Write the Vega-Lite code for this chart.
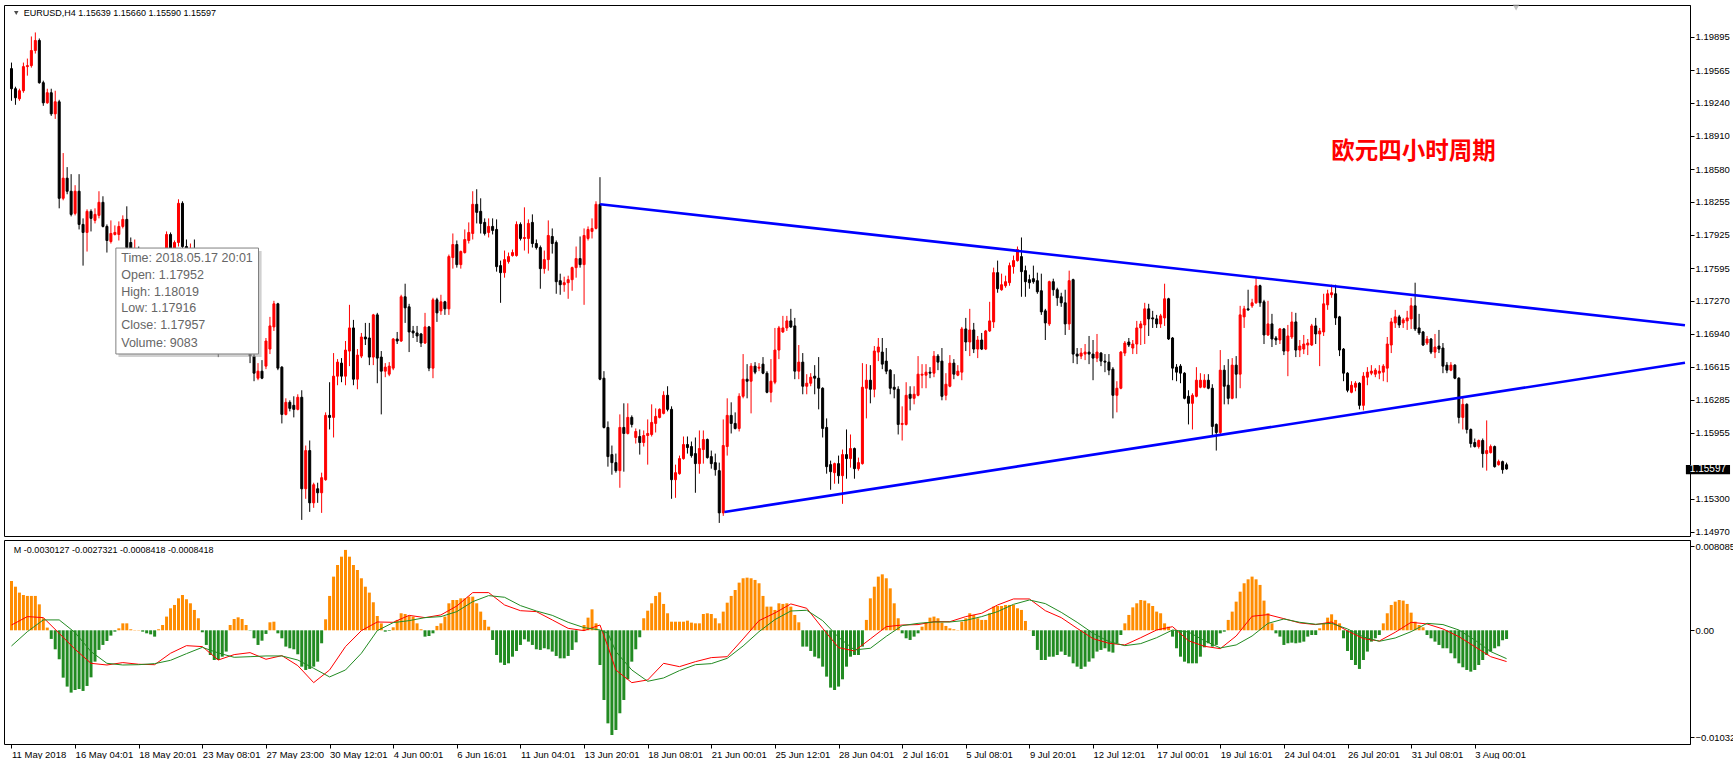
{
"$schema":"https://vega.github.io/schema/vega-lite/v6.json",
"background":"#ffffff",
"padding":{"left":3,"top":4,"right":0,"bottom":0},
"spacing":2,
"config":{"view":{"stroke":"#000000","strokeWidth":1},"axis":{"grid":false,"labelFont":"Liberation Sans","labelFontSize":9.5,"labelColor":"#000000","tickColor":"#000000","domainColor":"#000000"}},
"datasets":{
"bars":[
{"i":0,"o":1.1958,"h":1.1964,"l":1.1926,"c":1.1938,"m":0.00475},
{"i":1,"o":1.1938,"h":1.1940,"l":1.1922,"c":1.1929,"m":0.00420},
{"i":2,"o":1.1928,"h":1.1938,"l":1.1926,"c":1.1936,"m":0.00363},
{"i":3,"o":1.1936,"h":1.1964,"l":1.1934,"c":1.1960,"m":0.00340},
{"i":4,"o":1.1960,"h":1.1968,"l":1.1951,"c":1.1961,"m":0.00331},
{"i":5,"o":1.1961,"h":1.1990,"l":1.1959,"c":1.1976,"m":0.00331},
{"i":6,"o":1.1976,"h":1.1994,"l":1.1973,"c":1.1986,"m":0.00331},
{"i":7,"o":1.1986,"h":1.1988,"l":1.1943,"c":1.1944,"m":0.00250},
{"i":8,"o":1.1944,"h":1.1946,"l":1.1921,"c":1.1924,"m":0.00116},
{"i":9,"o":1.1924,"h":1.1938,"l":1.1923,"c":1.1934,"m":0.00026},
{"i":10,"o":1.1934,"h":1.1938,"l":1.1911,"c":1.1913,"m":-0.00083},
{"i":11,"o":1.1913,"h":1.1936,"l":1.1908,"c":1.1925,"m":-0.00183},
{"i":12,"o":1.1925,"h":1.1927,"l":1.1819,"c":1.1829,"m":-0.00279},
{"i":13,"o":1.1829,"h":1.1874,"l":1.1827,"c":1.1849,"m":-0.00456},
{"i":14,"o":1.1849,"h":1.1860,"l":1.1833,"c":1.1836,"m":-0.00542},
{"i":15,"o":1.1836,"h":1.1853,"l":1.1811,"c":1.1813,"m":-0.00600},
{"i":16,"o":1.1814,"h":1.1842,"l":1.1812,"c":1.1836,"m":-0.00575},
{"i":17,"o":1.1836,"h":1.1853,"l":1.1798,"c":1.1803,"m":-0.00565},
{"i":18,"o":1.1803,"h":1.1809,"l":1.1762,"c":1.1795,"m":-0.00584},
{"i":19,"o":1.1795,"h":1.1818,"l":1.1776,"c":1.1816,"m":-0.00536},
{"i":20,"o":1.1816,"h":1.1818,"l":1.1796,"c":1.1809,"m":-0.00453},
{"i":21,"o":1.1807,"h":1.1819,"l":1.1804,"c":1.1813,"m":-0.00302},
{"i":22,"o":1.1812,"h":1.1836,"l":1.1809,"c":1.1825,"m":-0.00189},
{"i":23,"o":1.1825,"h":1.1831,"l":1.1800,"c":1.1801,"m":-0.00141},
{"i":24,"o":1.1801,"h":1.1803,"l":1.1775,"c":1.1787,"m":-0.00103},
{"i":25,"o":1.1786,"h":1.1807,"l":1.1784,"c":1.1794,"m":-0.00051},
{"i":26,"o":1.1793,"h":1.1802,"l":1.1792,"c":1.1795,"m":-0.00013},
{"i":27,"o":1.1793,"h":1.1806,"l":1.1787,"c":1.1801,"m":0.00019},
{"i":28,"o":1.1801,"h":1.1812,"l":1.1799,"c":1.1808,"m":0.00067},
{"i":29,"o":1.1808,"h":1.1821,"l":1.1774,"c":1.1780,"m":0.00067},
{"i":30,"o":1.1785,"h":1.1790,"l":1.1759,"c":1.1765,"m":0.00010},
{"i":31,"o":1.1765,"h":1.1788,"l":1.1762,"c":1.1777,"m":0.00003},
{"i":32,"o":1.1777,"h":1.1781,"l":1.1763,"c":1.1769,"m":0.00003},
{"i":33,"o":1.1769,"h":1.1775,"l":1.1755,"c":1.1761,"m":-0.00013},
{"i":34,"o":1.1761,"h":1.1773,"l":1.1757,"c":1.1767,"m":-0.00029},
{"i":35,"o":1.1767,"h":1.1772,"l":1.1753,"c":1.1759,"m":-0.00039},
{"i":36,"o":1.1759,"h":1.1769,"l":1.1752,"c":1.1765,"m":-0.00061},
{"i":37,"o":1.1765,"h":1.1777,"l":1.1761,"c":1.1770,"m":0.00010},
{"i":38,"o":1.1770,"h":1.1779,"l":1.1765,"c":1.1775,"m":0.00051},
{"i":39,"o":1.1774,"h":1.1796,"l":1.1769,"c":1.1793,"m":0.00132},
{"i":40,"o":1.1793,"h":1.1795,"l":1.1771,"c":1.1775,"m":0.00212},
{"i":41,"o":1.1775,"h":1.1787,"l":1.1771,"c":1.1785,"m":0.00244},
{"i":42,"o":1.1785,"h":1.1828,"l":1.1781,"c":1.1824,"m":0.00308},
{"i":43,"o":1.1824,"h":1.1826,"l":1.1777,"c":1.1781,"m":0.00340},
{"i":44,"o":1.1781,"h":1.1788,"l":1.1765,"c":1.1771,"m":0.00299},
{"i":45,"o":1.1771,"h":1.1784,"l":1.1765,"c":1.1779,"m":0.00260},
{"i":46,"o":1.1779,"h":1.1788,"l":1.1761,"c":1.1765,"m":0.00196},
{"i":47,"o":1.1765,"h":1.1771,"l":1.1743,"c":1.1747,"m":0.00116},
{"i":48,"o":1.1747,"h":1.1751,"l":1.1724,"c":1.1729,"m":-0.00019},
{"i":49,"o":1.1729,"h":1.1735,"l":1.1709,"c":1.1715,"m":-0.00141},
{"i":50,"o":1.1715,"h":1.1727,"l":1.1707,"c":1.1722,"m":-0.00238},
{"i":51,"o":1.1722,"h":1.1725,"l":1.1691,"c":1.1697,"m":-0.00286},
{"i":52,"o":1.1697,"h":1.1702,"l":1.1671,"c":1.1687,"m":-0.00286},
{"i":53,"o":1.1687,"h":1.1701,"l":1.1679,"c":1.1695,"m":-0.00254},
{"i":54,"o":1.1695,"h":1.1699,"l":1.1675,"c":1.1682,"m":-0.00205},
{"i":55,"o":1.1682,"h":1.1697,"l":1.1677,"c":1.1694,"m":0.00051},
{"i":56,"o":1.1694,"h":1.1709,"l":1.1687,"c":1.1702,"m":0.00109},
{"i":57,"o":1.1702,"h":1.1707,"l":1.1689,"c":1.1697,"m":0.00125},
{"i":58,"o":1.1697,"h":1.1711,"l":1.1691,"c":1.1705,"m":0.00109},
{"i":59,"o":1.1705,"h":1.1709,"l":1.1682,"c":1.1691,"m":0.00051},
{"i":60,"o":1.1691,"h":1.1695,"l":1.1665,"c":1.1672,"m":-0.00003},
{"i":61,"o":1.1672,"h":1.1677,"l":1.1647,"c":1.1655,"m":-0.00077},
{"i":62,"o":1.1650,"h":1.1665,"l":1.1648,"c":1.1657,"m":-0.00141},
{"i":63,"o":1.1657,"h":1.1668,"l":1.1649,"c":1.1650,"m":-0.00100},
{"i":64,"o":1.1662,"h":1.1690,"l":1.1659,"c":1.1687,"m":-0.00035},
{"i":65,"o":1.1679,"h":1.1711,"l":1.1674,"c":1.1702,"m":0.00077},
{"i":66,"o":1.1701,"h":1.1727,"l":1.1697,"c":1.1724,"m":0.00083},
{"i":67,"o":1.1724,"h":1.1725,"l":1.1658,"c":1.1660,"m":-0.00029},
{"i":68,"o":1.1661,"h":1.1662,"l":1.1605,"c":1.1614,"m":-0.00077},
{"i":69,"o":1.1614,"h":1.1630,"l":1.1613,"c":1.1626,"m":-0.00157},
{"i":70,"o":1.1626,"h":1.1628,"l":1.1617,"c":1.1620,"m":-0.00173},
{"i":71,"o":1.1623,"h":1.1632,"l":1.1611,"c":1.1619,"m":-0.00183},
{"i":72,"o":1.1619,"h":1.1634,"l":1.1618,"c":1.1631,"m":-0.00231},
{"i":73,"o":1.1631,"h":1.1638,"l":1.1509,"c":1.1540,"m":-0.00350},
{"i":74,"o":1.1540,"h":1.1583,"l":1.1530,"c":1.1578,"m":-0.00382},
{"i":75,"o":1.1578,"h":1.1588,"l":1.1517,"c":1.1526,"m":-0.00372},
{"i":76,"o":1.1526,"h":1.1546,"l":1.1521,"c":1.1544,"m":-0.00350},
{"i":77,"o":1.1540,"h":1.1546,"l":1.1526,"c":1.1536,"m":-0.00302},
{"i":78,"o":1.1536,"h":1.1556,"l":1.1516,"c":1.1551,"m":-0.00125},
{"i":79,"o":1.1549,"h":1.1616,"l":1.1548,"c":1.1613,"m":0.00106},
{"i":80,"o":1.1613,"h":1.1646,"l":1.1599,"c":1.1611,"m":0.00331},
{"i":81,"o":1.1611,"h":1.1675,"l":1.1591,"c":1.1652,"m":0.00517},
{"i":82,"o":1.1652,"h":1.1669,"l":1.1643,"c":1.1666,"m":0.00629},
{"i":83,"o":1.1665,"h":1.1670,"l":1.1646,"c":1.1652,"m":0.00709},
{"i":84,"o":1.1652,"h":1.1687,"l":1.1643,"c":1.1678,"m":0.00774},
{"i":85,"o":1.1677,"h":1.1723,"l":1.1662,"c":1.1700,"m":0.00709},
{"i":86,"o":1.1700,"h":1.1708,"l":1.1643,"c":1.1649,"m":0.00629},
{"i":87,"o":1.1649,"h":1.1679,"l":1.1639,"c":1.1673,"m":0.00581},
{"i":88,"o":1.1672,"h":1.1695,"l":1.1670,"c":1.1691,"m":0.00501},
{"i":89,"o":1.1691,"h":1.1705,"l":1.1683,"c":1.1689,"m":0.00420},
{"i":90,"o":1.1690,"h":1.1705,"l":1.1663,"c":1.1671,"m":0.00363},
{"i":91,"o":1.1671,"h":1.1714,"l":1.1663,"c":1.1713,"m":0.00270},
{"i":92,"o":1.1713,"h":1.1715,"l":1.1645,"c":1.1670,"m":0.00138},
{"i":93,"o":1.1671,"h":1.1677,"l":1.1614,"c":1.1657,"m":0.00067},
{"i":94,"o":1.1657,"h":1.1665,"l":1.1651,"c":1.1661,"m":-0.00013},
{"i":95,"o":1.1654,"h":1.1666,"l":1.1652,"c":1.1662,"m":-0.00006},
{"i":96,"o":1.1660,"h":1.1690,"l":1.1658,"c":1.1689,"m":0.00029},
{"i":97,"o":1.1689,"h":1.1696,"l":1.1684,"c":1.1687,"m":0.00100},
{"i":98,"o":1.1687,"h":1.1733,"l":1.1686,"c":1.1731,"m":0.00164},
{"i":99,"o":1.1731,"h":1.1744,"l":1.1705,"c":1.1720,"m":0.00157},
{"i":100,"o":1.1721,"h":1.1724,"l":1.1676,"c":1.1696,"m":0.00138},
{"i":101,"o":1.1697,"h":1.1702,"l":1.1690,"c":1.1695,"m":0.00132},
{"i":102,"o":1.1695,"h":1.1702,"l":1.1686,"c":1.1692,"m":0.00067},
{"i":103,"o":1.1694,"h":1.1695,"l":1.1681,"c":1.1685,"m":0.00010},
{"i":104,"o":1.1685,"h":1.1715,"l":1.1684,"c":1.1701,"m":-0.00061},
{"i":105,"o":1.1701,"h":1.1702,"l":1.1657,"c":1.1660,"m":-0.00055},
{"i":106,"o":1.1660,"h":1.1730,"l":1.1650,"c":1.1728,"m":-0.00029},
{"i":107,"o":1.1728,"h":1.1730,"l":1.1706,"c":1.1715,"m":0.00042},
{"i":108,"o":1.1717,"h":1.1733,"l":1.1713,"c":1.1726,"m":0.00067},
{"i":109,"o":1.1726,"h":1.1727,"l":1.1713,"c":1.1719,"m":0.00132},
{"i":110,"o":1.1719,"h":1.1773,"l":1.1713,"c":1.1771,"m":0.00260},
{"i":111,"o":1.1770,"h":1.1794,"l":1.1759,"c":1.1783,"m":0.00292},
{"i":112,"o":1.1783,"h":1.1787,"l":1.1760,"c":1.1763,"m":0.00292},
{"i":113,"o":1.1763,"h":1.1777,"l":1.1759,"c":1.1776,"m":0.00308},
{"i":114,"o":1.1775,"h":1.1798,"l":1.1774,"c":1.1788,"m":0.00308},
{"i":115,"o":1.1787,"h":1.1805,"l":1.1784,"c":1.1795,"m":0.00324},
{"i":116,"o":1.1794,"h":1.1836,"l":1.1788,"c":1.1823,"m":0.00324},
{"i":117,"o":1.1823,"h":1.1838,"l":1.1804,"c":1.1815,"m":0.00260},
{"i":118,"o":1.1816,"h":1.1829,"l":1.1794,"c":1.1804,"m":0.00180},
{"i":119,"o":1.1805,"h":1.1809,"l":1.1792,"c":1.1794,"m":0.00100},
{"i":120,"o":1.1795,"h":1.1809,"l":1.1790,"c":1.1801,"m":0.00035},
{"i":121,"o":1.1801,"h":1.1809,"l":1.1793,"c":1.1797,"m":-0.00093},
{"i":122,"o":1.1798,"h":1.1808,"l":1.1756,"c":1.1761,"m":-0.00238},
{"i":123,"o":1.1762,"h":1.1767,"l":1.1725,"c":1.1755,"m":-0.00311},
{"i":124,"o":1.1755,"h":1.1777,"l":1.1750,"c":1.1768,"m":-0.00334},
{"i":125,"o":1.1766,"h":1.1775,"l":1.1764,"c":1.1771,"m":-0.00318},
{"i":126,"o":1.1772,"h":1.1778,"l":1.1771,"c":1.1775,"m":-0.00254},
{"i":127,"o":1.1772,"h":1.1806,"l":1.1771,"c":1.1803,"m":-0.00199},
{"i":128,"o":1.1803,"h":1.1805,"l":1.1787,"c":1.1789,"m":-0.00141},
{"i":129,"o":1.1789,"h":1.1820,"l":1.1777,"c":1.1790,"m":-0.00087},
{"i":130,"o":1.1789,"h":1.1808,"l":1.1774,"c":1.1804,"m":-0.00109},
{"i":131,"o":1.1805,"h":1.1813,"l":1.1780,"c":1.1784,"m":-0.00141},
{"i":132,"o":1.1784,"h":1.1788,"l":1.1778,"c":1.1780,"m":-0.00183},
{"i":133,"o":1.1780,"h":1.1782,"l":1.1739,"c":1.1759,"m":-0.00189},
{"i":134,"o":1.1759,"h":1.1777,"l":1.1754,"c":1.1768,"m":-0.00173},
{"i":135,"o":1.1768,"h":1.1807,"l":1.1757,"c":1.1792,"m":-0.00183},
{"i":136,"o":1.1791,"h":1.1799,"l":1.1774,"c":1.1784,"m":-0.00205},
{"i":137,"o":1.1785,"h":1.1787,"l":1.1734,"c":1.1746,"m":-0.00247},
{"i":138,"o":1.1747,"h":1.1754,"l":1.1733,"c":1.1743,"m":-0.00270},
{"i":139,"o":1.1743,"h":1.1751,"l":1.1736,"c":1.1745,"m":-0.00270},
{"i":140,"o":1.1745,"h":1.1752,"l":1.1729,"c":1.1748,"m":-0.00247},
{"i":141,"o":1.1748,"h":1.1761,"l":1.1737,"c":1.1760,"m":-0.00189},
{"i":142,"o":1.1760,"h":1.1781,"l":1.1750,"c":1.1769,"m":-0.00116},
{"i":143,"o":1.1769,"h":1.1791,"l":1.1760,"c":1.1763,"m":0.00003},
{"i":144,"o":1.1763,"h":1.1799,"l":1.1723,"c":1.1792,"m":0.00051},
{"i":145,"o":1.1789,"h":1.1801,"l":1.1787,"c":1.1798,"m":0.00122},
{"i":146,"o":1.1796,"h":1.1809,"l":1.1789,"c":1.1799,"m":0.00202},
{"i":147,"o":1.1799,"h":1.1826,"l":1.1798,"c":1.1823,"m":0.00067},
{"i":148,"o":1.1823,"h":1.1850,"l":1.1648,"c":1.1649,"m":-0.00334},
{"i":149,"o":1.1650,"h":1.1657,"l":1.1600,"c":1.1601,"m":-0.00671},
{"i":150,"o":1.1601,"h":1.1607,"l":1.1562,"c":1.1572,"m":-0.00896},
{"i":151,"o":1.1574,"h":1.1583,"l":1.1554,"c":1.1566,"m":-0.01008},
{"i":152,"o":1.1566,"h":1.1575,"l":1.1556,"c":1.1558,"m":-0.00960},
{"i":153,"o":1.1558,"h":1.1614,"l":1.1541,"c":1.1601,"m":-0.00799},
{"i":154,"o":1.1601,"h":1.1625,"l":1.1557,"c":1.1595,"m":-0.00671},
{"i":155,"o":1.1595,"h":1.1625,"l":1.1594,"c":1.1611,"m":-0.00472},
{"i":156,"o":1.1611,"h":1.1613,"l":1.1601,"c":1.1604,"m":-0.00302},
{"i":157,"o":1.1591,"h":1.1600,"l":1.1585,"c":1.1597,"m":-0.00183},
{"i":158,"o":1.1592,"h":1.1599,"l":1.1574,"c":1.1586,"m":-0.00067},
{"i":159,"o":1.1586,"h":1.1598,"l":1.1582,"c":1.1593,"m":0.00116},
{"i":160,"o":1.1593,"h":1.1609,"l":1.1564,"c":1.1595,"m":0.00189},
{"i":161,"o":1.1594,"h":1.1624,"l":1.1592,"c":1.1606,"m":0.00260},
{"i":162,"o":1.1605,"h":1.1620,"l":1.1596,"c":1.1612,"m":0.00331},
{"i":163,"o":1.1611,"h":1.1620,"l":1.1610,"c":1.1619,"m":0.00366},
{"i":164,"o":1.1615,"h":1.1637,"l":1.1614,"c":1.1633,"m":0.00254},
{"i":165,"o":1.1633,"h":1.1642,"l":1.1617,"c":1.1619,"m":0.00164},
{"i":166,"o":1.1619,"h":1.1622,"l":1.1530,"c":1.1549,"m":0.00083},
{"i":167,"o":1.1549,"h":1.1564,"l":1.1531,"c":1.1556,"m":0.00083},
{"i":168,"o":1.1555,"h":1.1573,"l":1.1554,"c":1.1570,"m":0.00083},
{"i":169,"o":1.1570,"h":1.1592,"l":1.1569,"c":1.1584,"m":0.00083},
{"i":170,"o":1.1584,"h":1.1592,"l":1.1575,"c":1.1581,"m":0.00093},
{"i":171,"o":1.1582,"h":1.1587,"l":1.1571,"c":1.1573,"m":0.00074},
{"i":172,"o":1.1575,"h":1.1591,"l":1.1536,"c":1.1565,"m":0.00067},
{"i":173,"o":1.1565,"h":1.1598,"l":1.1555,"c":1.1580,"m":0.00067},
{"i":174,"o":1.1579,"h":1.1598,"l":1.1565,"c":1.1589,"m":0.00157},
{"i":175,"o":1.1589,"h":1.1590,"l":1.1570,"c":1.1571,"m":0.00164},
{"i":176,"o":1.1572,"h":1.1578,"l":1.1560,"c":1.1565,"m":0.00157},
{"i":177,"o":1.1566,"h":1.1575,"l":1.1553,"c":1.1559,"m":0.00116},
{"i":178,"o":1.1558,"h":1.1566,"l":1.1506,"c":1.1516,"m":0.00067},
{"i":179,"o":1.1516,"h":1.1609,"l":1.1513,"c":1.1583,"m":0.00180},
{"i":180,"o":1.1582,"h":1.1630,"l":1.1573,"c":1.1613,"m":0.00266},
{"i":181,"o":1.1613,"h":1.1626,"l":1.1595,"c":1.1605,"m":0.00331},
{"i":182,"o":1.1605,"h":1.1616,"l":1.1599,"c":1.1600,"m":0.00388},
{"i":183,"o":1.1600,"h":1.1635,"l":1.1597,"c":1.1632,"m":0.00459},
{"i":184,"o":1.1632,"h":1.1674,"l":1.1630,"c":1.1649,"m":0.00501},
{"i":185,"o":1.1649,"h":1.1664,"l":1.1630,"c":1.1647,"m":0.00507},
{"i":186,"o":1.1647,"h":1.1665,"l":1.1615,"c":1.1662,"m":0.00501},
{"i":187,"o":1.1662,"h":1.1666,"l":1.1654,"c":1.1656,"m":0.00485},
{"i":188,"o":1.1660,"h":1.1665,"l":1.1657,"c":1.1661,"m":0.00453},
{"i":189,"o":1.1664,"h":1.1671,"l":1.1654,"c":1.1655,"m":0.00331},
{"i":190,"o":1.1655,"h":1.1657,"l":1.1635,"c":1.1636,"m":0.00228},
{"i":191,"o":1.1636,"h":1.1669,"l":1.1626,"c":1.1647,"m":0.00228},
{"i":192,"o":1.1646,"h":1.1700,"l":1.1644,"c":1.1678,"m":0.00196},
{"i":193,"o":1.1678,"h":1.1702,"l":1.1669,"c":1.1700,"m":0.00260},
{"i":194,"o":1.1696,"h":1.1712,"l":1.1695,"c":1.1700,"m":0.00254},
{"i":195,"o":1.1700,"h":1.1712,"l":1.1697,"c":1.1707,"m":0.00260},
{"i":196,"o":1.1707,"h":1.1719,"l":1.1700,"c":1.1701,"m":0.00228},
{"i":197,"o":1.1702,"h":1.1710,"l":1.1649,"c":1.1657,"m":0.00148},
{"i":198,"o":1.1657,"h":1.1683,"l":1.1649,"c":1.1666,"m":0.00077},
{"i":199,"o":1.1666,"h":1.1675,"l":1.1634,"c":1.1642,"m":-0.00157},
{"i":200,"o":1.1642,"h":1.1654,"l":1.1634,"c":1.1645,"m":-0.00157},
{"i":201,"o":1.1645,"h":1.1655,"l":1.1642,"c":1.1651,"m":-0.00199},
{"i":202,"o":1.1652,"h":1.1663,"l":1.1634,"c":1.1650,"m":-0.00254},
{"i":203,"o":1.1650,"h":1.1671,"l":1.1619,"c":1.1640,"m":-0.00270},
{"i":204,"o":1.1640,"h":1.1641,"l":1.1591,"c":1.1600,"m":-0.00350},
{"i":205,"o":1.1601,"h":1.1610,"l":1.1555,"c":1.1562,"m":-0.00446},
{"i":206,"o":1.1564,"h":1.1568,"l":1.1539,"c":1.1557,"m":-0.00552},
{"i":207,"o":1.1556,"h":1.1566,"l":1.1545,"c":1.1565,"m":-0.00575},
{"i":208,"o":1.1565,"h":1.1573,"l":1.1545,"c":1.1553,"m":-0.00542},
{"i":209,"o":1.1553,"h":1.1579,"l":1.1525,"c":1.1574,"m":-0.00472},
{"i":210,"o":1.1574,"h":1.1599,"l":1.1550,"c":1.1570,"m":-0.00350},
{"i":211,"o":1.1570,"h":1.1594,"l":1.1561,"c":1.1580,"m":-0.00254},
{"i":212,"o":1.1580,"h":1.1581,"l":1.1550,"c":1.1560,"m":-0.00238},
{"i":213,"o":1.1560,"h":1.1571,"l":1.1558,"c":1.1566,"m":-0.00238},
{"i":214,"o":1.1565,"h":1.1665,"l":1.1564,"c":1.1641,"m":-0.00157},
{"i":215,"o":1.1640,"h":1.1664,"l":1.1610,"c":1.1648,"m":0.00100},
{"i":216,"o":1.1648,"h":1.1663,"l":1.1625,"c":1.1639,"m":0.00308},
{"i":217,"o":1.1639,"h":1.1682,"l":1.1631,"c":1.1677,"m":0.00420},
{"i":218,"o":1.1676,"h":1.1690,"l":1.1667,"c":1.1681,"m":0.00517},
{"i":219,"o":1.1676,"h":1.1690,"l":1.1659,"c":1.1664,"m":0.00539},
{"i":220,"o":1.1667,"h":1.1680,"l":1.1654,"c":1.1657,"m":0.00501},
{"i":221,"o":1.1658,"h":1.1659,"l":1.1634,"c":1.1640,"m":0.00404},
{"i":222,"o":1.1641,"h":1.1654,"l":1.1630,"c":1.1639,"m":0.00260},
{"i":223,"o":1.1639,"h":1.1642,"l":1.1594,"c":1.1604,"m":0.00116},
{"i":224,"o":1.1604,"h":1.1622,"l":1.1588,"c":1.1605,"m":-0.00029},
{"i":225,"o":1.1604,"h":1.1646,"l":1.1603,"c":1.1633,"m":-0.00077},
{"i":226,"o":1.1634,"h":1.1642,"l":1.1618,"c":1.1630,"m":-0.00093},
{"i":227,"o":1.1630,"h":1.1642,"l":1.1624,"c":1.1634,"m":-0.00061},
{"i":228,"o":1.1633,"h":1.1672,"l":1.1632,"c":1.1654,"m":-0.00029},
{"i":229,"o":1.1653,"h":1.1664,"l":1.1640,"c":1.1654,"m":0.00035},
{"i":230,"o":1.1653,"h":1.1664,"l":1.1640,"c":1.1656,"m":0.00074},
{"i":231,"o":1.1656,"h":1.1661,"l":1.1650,"c":1.1655,"m":0.00122},
{"i":232,"o":1.1655,"h":1.1677,"l":1.1651,"c":1.1672,"m":0.00132},
{"i":233,"o":1.1672,"h":1.1674,"l":1.1658,"c":1.1666,"m":0.00116},
{"i":234,"o":1.1667,"h":1.1680,"l":1.1628,"c":1.1632,"m":0.00074},
{"i":235,"o":1.1633,"h":1.1655,"l":1.1628,"c":1.1644,"m":0.00042},
{"i":236,"o":1.1642,"h":1.1673,"l":1.1641,"c":1.1665,"m":0.00019},
{"i":237,"o":1.1665,"h":1.1669,"l":1.1649,"c":1.1654,"m":0.00010},
{"i":238,"o":1.1653,"h":1.1663,"l":1.1652,"c":1.1657,"m":0.00003},
{"i":239,"o":1.1656,"h":1.1701,"l":1.1648,"c":1.1699,"m":0.00083},
{"i":240,"o":1.1699,"h":1.1710,"l":1.1677,"c":1.1686,"m":0.00116},
{"i":241,"o":1.1686,"h":1.1719,"l":1.1672,"c":1.1698,"m":0.00164},
{"i":242,"o":1.1698,"h":1.1705,"l":1.1675,"c":1.1679,"m":0.00148},
{"i":243,"o":1.1679,"h":1.1692,"l":1.1670,"c":1.1688,"m":0.00116},
{"i":244,"o":1.1688,"h":1.1695,"l":1.1678,"c":1.1679,"m":0.00100},
{"i":245,"o":1.1679,"h":1.1698,"l":1.1678,"c":1.1697,"m":0.00100},
{"i":246,"o":1.1697,"h":1.1726,"l":1.1696,"c":1.1707,"m":0.00164},
{"i":247,"o":1.1706,"h":1.1760,"l":1.1700,"c":1.1755,"m":0.00228},
{"i":248,"o":1.1755,"h":1.1767,"l":1.1735,"c":1.1739,"m":0.00234},
{"i":249,"o":1.1738,"h":1.1754,"l":1.1737,"c":1.1743,"m":0.00234},
{"i":250,"o":1.1742,"h":1.1752,"l":1.1740,"c":1.1746,"m":0.00244},
{"i":251,"o":1.1745,"h":1.1765,"l":1.1742,"c":1.1762,"m":0.00244},
{"i":252,"o":1.1761,"h":1.1772,"l":1.1754,"c":1.1767,"m":0.00244},
{"i":253,"o":1.1767,"h":1.1781,"l":1.1766,"c":1.1778,"m":0.00212},
{"i":254,"o":1.1771,"h":1.1790,"l":1.1731,"c":1.1756,"m":0.00196},
{"i":255,"o":1.1757,"h":1.1762,"l":1.1731,"c":1.1746,"m":0.00090},
{"i":256,"o":1.1748,"h":1.1753,"l":1.1739,"c":1.1745,"m":0.00003},
{"i":257,"o":1.1749,"h":1.1762,"l":1.1744,"c":1.1746,"m":-0.00055},
{"i":258,"o":1.1747,"h":1.1755,"l":1.1734,"c":1.1736,"m":-0.00189},
{"i":259,"o":1.1737,"h":1.1754,"l":1.1713,"c":1.1716,"m":-0.00286},
{"i":260,"o":1.1717,"h":1.1719,"l":1.1688,"c":1.1705,"m":-0.00286},
{"i":261,"o":1.1704,"h":1.1747,"l":1.1702,"c":1.1746,"m":-0.00254},
{"i":262,"o":1.1746,"h":1.1749,"l":1.1732,"c":1.1738,"m":-0.00254},
{"i":263,"o":1.1738,"h":1.1740,"l":1.1722,"c":1.1730,"m":-0.00238},
{"i":264,"o":1.1731,"h":1.1735,"l":1.1721,"c":1.1725,"m":-0.00205},
{"i":265,"o":1.1725,"h":1.1738,"l":1.1693,"c":1.1704,"m":-0.00238},
{"i":266,"o":1.1704,"h":1.1757,"l":1.1698,"c":1.1747,"m":-0.00254},
{"i":267,"o":1.1748,"h":1.1749,"l":1.1665,"c":1.1674,"m":-0.00318},
{"i":268,"o":1.1674,"h":1.1680,"l":1.1664,"c":1.1672,"m":-0.00350},
{"i":269,"o":1.1672,"h":1.1680,"l":1.1669,"c":1.1675,"m":-0.00372},
{"i":270,"o":1.1674,"h":1.1684,"l":1.1668,"c":1.1676,"m":-0.00350},
{"i":271,"o":1.1676,"h":1.1692,"l":1.1664,"c":1.1674,"m":-0.00302},
{"i":272,"o":1.1674,"h":1.1688,"l":1.1648,"c":1.1670,"m":-0.00270},
{"i":273,"o":1.1670,"h":1.1694,"l":1.1666,"c":1.1676,"m":-0.00205},
{"i":274,"o":1.1675,"h":1.1676,"l":1.1662,"c":1.1667,"m":-0.00189},
{"i":275,"o":1.1667,"h":1.1674,"l":1.1656,"c":1.1666,"m":-0.00173},
{"i":276,"o":1.1666,"h":1.1674,"l":1.1653,"c":1.1658,"m":-0.00205},
{"i":277,"o":1.1659,"h":1.1661,"l":1.1610,"c":1.1633,"m":-0.00215},
{"i":278,"o":1.1633,"h":1.1647,"l":1.1616,"c":1.1640,"m":-0.00125},
{"i":279,"o":1.1640,"h":1.1677,"l":1.1639,"c":1.1676,"m":-0.00045},
{"i":280,"o":1.1675,"h":1.1687,"l":1.1672,"c":1.1685,"m":0.00067},
{"i":281,"o":1.1686,"h":1.1690,"l":1.1681,"c":1.1683,"m":0.00148},
{"i":282,"o":1.1680,"h":1.1688,"l":1.1674,"c":1.1684,"m":0.00221},
{"i":283,"o":1.1684,"h":1.1707,"l":1.1674,"c":1.1700,"m":0.00260},
{"i":284,"o":1.1700,"h":1.1707,"l":1.1683,"c":1.1704,"m":0.00292},
{"i":285,"o":1.1703,"h":1.1725,"l":1.1684,"c":1.1719,"m":0.00286},
{"i":286,"o":1.1719,"h":1.1724,"l":1.1692,"c":1.1709,"m":0.00260},
{"i":287,"o":1.1710,"h":1.1717,"l":1.1700,"c":1.1709,"m":0.00234},
{"i":288,"o":1.1709,"h":1.1713,"l":1.1700,"c":1.1704,"m":0.00180},
{"i":289,"o":1.1704,"h":1.1714,"l":1.1700,"c":1.1712,"m":0.00164},
{"i":290,"o":1.1710,"h":1.1744,"l":1.1702,"c":1.1729,"m":0.00067},
{"i":291,"o":1.1729,"h":1.1730,"l":1.1688,"c":1.1689,"m":0.00035},
{"i":292,"o":1.1690,"h":1.1691,"l":1.1648,"c":1.1660,"m":-0.00061},
{"i":293,"o":1.1661,"h":1.1664,"l":1.1647,"c":1.1656,"m":-0.00173},
{"i":294,"o":1.1662,"h":1.1664,"l":1.1645,"c":1.1655,"m":-0.00254},
{"i":295,"o":1.1655,"h":1.1656,"l":1.1629,"c":1.1630,"m":-0.00302},
{"i":296,"o":1.1632,"h":1.1638,"l":1.1604,"c":1.1625,"m":-0.00318},
{"i":297,"o":1.1625,"h":1.1635,"l":1.1599,"c":1.1633,"m":-0.00318},
{"i":298,"o":1.1632,"h":1.1661,"l":1.1631,"c":1.1648,"m":-0.00318},
{"i":299,"o":1.1641,"h":1.1655,"l":1.1640,"c":1.1648,"m":-0.00254},
{"i":300,"o":1.1641,"h":1.1654,"l":1.1640,"c":1.1648,"m":-0.00164},
{"i":301,"o":1.1648,"h":1.1654,"l":1.1639,"c":1.1640,"m":-0.00125},
{"i":302,"o":1.1640,"h":1.1644,"l":1.1593,"c":1.1602,"m":-0.00157},
{"i":303,"o":1.1604,"h":1.1605,"l":1.1578,"c":1.1596,"m":-0.00141},
{"i":304,"o":1.1596,"h":1.1678,"l":1.1594,"c":1.1658,"m":-0.00029},
{"i":305,"o":1.1658,"h":1.1663,"l":1.1624,"c":1.1642,"m":-0.00013},
{"i":306,"o":1.1643,"h":1.1669,"l":1.1624,"c":1.1630,"m":0.00100},
{"i":307,"o":1.1630,"h":1.1670,"l":1.1629,"c":1.1663,"m":0.00180},
{"i":308,"o":1.1663,"h":1.1672,"l":1.1630,"c":1.1654,"m":0.00276},
{"i":309,"o":1.1654,"h":1.1722,"l":1.1640,"c":1.1713,"m":0.00372},
{"i":310,"o":1.1711,"h":1.1722,"l":1.1700,"c":1.1719,"m":0.00453},
{"i":311,"o":1.1719,"h":1.1738,"l":1.1717,"c":1.1718,"m":0.00491},
{"i":312,"o":1.1722,"h":1.1729,"l":1.1720,"c":1.1725,"m":0.00517},
{"i":313,"o":1.1725,"h":1.1750,"l":1.1724,"c":1.1742,"m":0.00491},
{"i":314,"o":1.1742,"h":1.1743,"l":1.1721,"c":1.1725,"m":0.00437},
{"i":315,"o":1.1726,"h":1.1728,"l":1.1684,"c":1.1693,"m":0.00286},
{"i":316,"o":1.1693,"h":1.1727,"l":1.1692,"c":1.1704,"m":0.00164},
{"i":317,"o":1.1704,"h":1.1714,"l":1.1681,"c":1.1689,"m":0.00067},
{"i":318,"o":1.1690,"h":1.1692,"l":1.1683,"c":1.1688,"m":-0.00029},
{"i":319,"o":1.1688,"h":1.1700,"l":1.1684,"c":1.1699,"m":-0.00061},
{"i":320,"o":1.1699,"h":1.1700,"l":1.1673,"c":1.1677,"m":-0.00141},
{"i":321,"o":1.1677,"h":1.1703,"l":1.1652,"c":1.1692,"m":-0.00125},
{"i":322,"o":1.1691,"h":1.1716,"l":1.1689,"c":1.1706,"m":-0.00119},
{"i":323,"o":1.1706,"h":1.1715,"l":1.1671,"c":1.1678,"m":-0.00125},
{"i":324,"o":1.1678,"h":1.1688,"l":1.1671,"c":1.1682,"m":-0.00119},
{"i":325,"o":1.1679,"h":1.1693,"l":1.1674,"c":1.1684,"m":-0.00109},
{"i":326,"o":1.1683,"h":1.1689,"l":1.1673,"c":1.1685,"m":-0.00061},
{"i":327,"o":1.1683,"h":1.1704,"l":1.1682,"c":1.1702,"m":-0.00045},
{"i":328,"o":1.1702,"h":1.1710,"l":1.1684,"c":1.1694,"m":-0.00045},
{"i":329,"o":1.1694,"h":1.1700,"l":1.1662,"c":1.1697,"m":0.00019},
{"i":330,"o":1.1696,"h":1.1734,"l":1.1692,"c":1.1724,"m":0.00067},
{"i":331,"o":1.1723,"h":1.1738,"l":1.1718,"c":1.1734,"m":0.00122},
{"i":332,"o":1.1733,"h":1.1743,"l":1.1730,"c":1.1735,"m":0.00154},
{"i":333,"o":1.1734,"h":1.1743,"l":1.1703,"c":1.1710,"m":0.00100},
{"i":334,"o":1.1711,"h":1.1712,"l":1.1672,"c":1.1678,"m":0.00067},
{"i":335,"o":1.1679,"h":1.1680,"l":1.1647,"c":1.1655,"m":-0.00077},
{"i":336,"o":1.1655,"h":1.1656,"l":1.1636,"c":1.1638,"m":-0.00199},
{"i":337,"o":1.1636,"h":1.1647,"l":1.1635,"c":1.1643,"m":-0.00286},
{"i":338,"o":1.1641,"h":1.1647,"l":1.1637,"c":1.1645,"m":-0.00334},
{"i":339,"o":1.1645,"h":1.1646,"l":1.1619,"c":1.1623,"m":-0.00372},
{"i":340,"o":1.1623,"h":1.1656,"l":1.1618,"c":1.1652,"m":-0.00286},
{"i":341,"o":1.1651,"h":1.1661,"l":1.1643,"c":1.1656,"m":-0.00205},
{"i":342,"o":1.1655,"h":1.1663,"l":1.1653,"c":1.1657,"m":-0.00109},
{"i":343,"o":1.1654,"h":1.1660,"l":1.1651,"c":1.1658,"m":-0.00077},
{"i":344,"o":1.1655,"h":1.1663,"l":1.1649,"c":1.1657,"m":-0.00045},
{"i":345,"o":1.1656,"h":1.1664,"l":1.1647,"c":1.1662,"m":0.00067},
{"i":346,"o":1.1660,"h":1.1691,"l":1.1646,"c":1.1684,"m":0.00164},
{"i":347,"o":1.1683,"h":1.1710,"l":1.1675,"c":1.1706,"m":0.00244},
{"i":348,"o":1.1705,"h":1.1718,"l":1.1700,"c":1.1711,"m":0.00276},
{"i":349,"o":1.1711,"h":1.1713,"l":1.1700,"c":1.1703,"m":0.00292},
{"i":350,"o":1.1705,"h":1.1710,"l":1.1700,"c":1.1708,"m":0.00286},
{"i":351,"o":1.1707,"h":1.1717,"l":1.1698,"c":1.1710,"m":0.00254},
{"i":352,"o":1.1709,"h":1.1730,"l":1.1699,"c":1.1722,"m":0.00170},
{"i":353,"o":1.1722,"h":1.1745,"l":1.1697,"c":1.1699,"m":0.00083},
{"i":354,"o":1.1700,"h":1.1714,"l":1.1693,"c":1.1695,"m":0.00051},
{"i":355,"o":1.1696,"h":1.1697,"l":1.1682,"c":1.1683,"m":0.00029},
{"i":356,"o":1.1685,"h":1.1692,"l":1.1683,"c":1.1689,"m":-0.00045},
{"i":357,"o":1.1689,"h":1.1690,"l":1.1674,"c":1.1676,"m":-0.00077},
{"i":358,"o":1.1676,"h":1.1694,"l":1.1670,"c":1.1681,"m":-0.00109},
{"i":359,"o":1.1682,"h":1.1698,"l":1.1675,"c":1.1679,"m":-0.00141},
{"i":360,"o":1.1680,"h":1.1685,"l":1.1655,"c":1.1662,"m":-0.00173},
{"i":361,"o":1.1663,"h":1.1666,"l":1.1655,"c":1.1658,"m":-0.00173},
{"i":362,"o":1.1658,"h":1.1666,"l":1.1657,"c":1.1663,"m":-0.00221},
{"i":363,"o":1.1663,"h":1.1664,"l":1.1649,"c":1.1650,"m":-0.00270},
{"i":364,"o":1.1650,"h":1.1651,"l":1.1605,"c":1.1611,"m":-0.00318},
{"i":365,"o":1.1611,"h":1.1632,"l":1.1599,"c":1.1624,"m":-0.00356},
{"i":366,"o":1.1624,"h":1.1625,"l":1.1595,"c":1.1599,"m":-0.00382},
{"i":367,"o":1.1599,"h":1.1600,"l":1.1581,"c":1.1585,"m":-0.00398},
{"i":368,"o":1.1586,"h":1.1590,"l":1.1581,"c":1.1582,"m":-0.00382},
{"i":369,"o":1.1582,"h":1.1589,"l":1.1580,"c":1.1588,"m":-0.00334},
{"i":370,"o":1.1588,"h":1.1590,"l":1.1561,"c":1.1575,"m":-0.00286},
{"i":371,"o":1.1575,"h":1.1608,"l":1.1558,"c":1.1578,"m":-0.00238},
{"i":372,"o":1.1576,"h":1.1584,"l":1.1575,"c":1.1582,"m":-0.00205},
{"i":373,"o":1.1582,"h":1.1583,"l":1.1561,"c":1.1562,"m":-0.00173},
{"i":374,"o":1.1564,"h":1.1569,"l":1.1563,"c":1.1567,"m":-0.00154},
{"i":375,"o":1.1567,"h":1.1568,"l":1.1555,"c":1.1559,"m":-0.00096},
{"i":376,"o":1.15639,"h":1.15660,"l":1.15590,"c":1.15597,"m":-0.00084}
],
"lines":[
{"i":0,"r":0.00051,"g":-0.00151},{"i":4,"r":0.00132,"g":-0.00013},{"i":8,"r":0.00122,"g":0.00100},{"i":12,"r":-0.00029,"g":0.00100},
{"i":16,"r":-0.00183,"g":-0.00022},{"i":20,"r":-0.00318,"g":-0.00205},{"i":24,"r":-0.00334,"g":-0.00318},{"i":28,"r":-0.00311,"g":-0.00334},
{"i":32,"r":-0.00327,"g":-0.00331},{"i":36,"r":-0.00331,"g":-0.00321},{"i":40,"r":-0.00221,"g":-0.00289},{"i":44,"r":-0.00148,"g":-0.00225},
{"i":48,"r":-0.00157,"g":-0.00164},{"i":52,"r":-0.00286,"g":-0.00218},{"i":56,"r":-0.00234,"g":-0.00260},{"i":60,"r":-0.00215,"g":-0.00254},
{"i":64,"r":-0.00279,"g":-0.00247},{"i":68,"r":-0.00244,"g":-0.00247},{"i":72,"r":-0.00340,"g":-0.00286},{"i":76,"r":-0.00504,"g":-0.00366},
{"i":80,"r":-0.00382,"g":-0.00449},{"i":84,"r":-0.00157,"g":-0.00382},{"i":88,"r":-0.00003,"g":-0.00221},{"i":92,"r":0.00080,"g":-0.00003},
{"i":96,"r":0.00077,"g":0.00074},{"i":100,"r":0.00144,"g":0.00093},{"i":104,"r":0.00122,"g":0.00122},{"i":108,"r":0.00148,"g":0.00132},
{"i":112,"r":0.00234,"g":0.00180},{"i":116,"r":0.00363,"g":0.00276},{"i":120,"r":0.00363,"g":0.00334},{"i":124,"r":0.00244,"g":0.00318},
{"i":128,"r":0.00189,"g":0.00238},{"i":132,"r":0.00180,"g":0.00186},{"i":136,"r":0.00100,"g":0.00144},{"i":140,"r":0.00019,"g":0.00077},
{"i":144,"r":-0.00003,"g":0.00026},{"i":148,"r":0.00051,"g":0.00003},{"i":150,"r":-0.00157,"g":-0.00029},{"i":152,"r":-0.00382,"g":-0.00205},
{"i":156,"r":-0.00504,"g":-0.00382},{"i":160,"r":-0.00478,"g":-0.00491},{"i":164,"r":-0.00318,"g":-0.00459},{"i":168,"r":-0.00350,"g":-0.00388},
{"i":172,"r":-0.00302,"g":-0.00331},{"i":176,"r":-0.00263,"g":-0.00321},{"i":180,"r":-0.00254,"g":-0.00270},{"i":184,"r":-0.00083,"g":-0.00151},
{"i":188,"r":0.00093,"g":-0.00013},{"i":192,"r":0.00167,"g":0.00103},{"i":196,"r":0.00254,"g":0.00186},{"i":200,"r":0.00212,"g":0.00193},
{"i":204,"r":0.00019,"g":0.00093},{"i":208,"r":-0.00167,"g":-0.00067},{"i":212,"r":-0.00199,"g":-0.00189},{"i":216,"r":-0.00083,"g":-0.00173},
{"i":220,"r":0.00035,"g":-0.00058},{"i":224,"r":0.00051,"g":0.00045},{"i":228,"r":0.00055,"g":0.00067},{"i":232,"r":0.00083,"g":0.00080},
{"i":236,"r":0.00083,"g":0.00080},{"i":240,"r":0.00132,"g":0.00096},{"i":244,"r":0.00164,"g":0.00132},{"i":248,"r":0.00244,"g":0.00180},
{"i":252,"r":0.00302,"g":0.00250},{"i":256,"r":0.00302,"g":0.00292},{"i":260,"r":0.00189,"g":0.00257},{"i":264,"r":0.00122,"g":0.00173},
{"i":268,"r":0.00019,"g":0.00077},{"i":272,"r":-0.00080,"g":-0.00029},{"i":276,"r":-0.00125,"g":-0.00109},{"i":280,"r":-0.00141,"g":-0.00148},
{"i":284,"r":-0.00071,"g":-0.00128},{"i":288,"r":0.00003,"g":-0.00071},{"i":292,"r":0.00035,"g":0.00003},{"i":296,"r":-0.00100,"g":-0.00016},
{"i":300,"r":-0.00154,"g":-0.00100},{"i":304,"r":-0.00177,"g":-0.00170},{"i":308,"r":-0.00055,"g":-0.00141},{"i":312,"r":0.00135,"g":-0.00055},
{"i":316,"r":0.00151,"g":0.00067},{"i":320,"r":0.00112,"g":0.00109},{"i":324,"r":0.00071,"g":0.00077},{"i":328,"r":0.00055,"g":0.00058},
{"i":332,"r":0.00080,"g":0.00067},{"i":336,"r":-0.00006,"g":0.00013},{"i":340,"r":-0.00080,"g":-0.00064},{"i":344,"r":-0.00103,"g":-0.00106},
{"i":348,"r":-0.00019,"g":-0.00074},{"i":352,"r":0.00077,"g":-0.00013},{"i":356,"r":0.00061,"g":0.00067},{"i":360,"r":0.00013,"g":0.00055},
{"i":364,"r":-0.00061,"g":0.00003},{"i":368,"r":-0.00157,"g":-0.00093},{"i":372,"r":-0.00254,"g":-0.00205},{"i":376,"r":-0.00301,"g":-0.00273}
]
},
"vconcat":[
{
"width":1686,"height":531,
"layer":[
{"mark":{"type":"rule","color":"#c0c0c0","strokeWidth":1},
 "encoding":{"y":{"datum":1.15597,"type":"quantitative","scale":{"domain":[1.1493,1.20213],"nice":false,"zero":false},
  "axis":{"orient":"right","values":[1.19895,1.19565,1.1924,1.1891,1.1858,1.18255,1.17925,1.17595,1.1727,1.1694,1.16615,1.16285,1.15955,1.153,1.1497],"format":".5f","tickSize":4,"labelPadding":1,"title":null,"grid":false}}}},
{"data":{"name":"bars"},"mark":{"type":"rule","strokeWidth":1},
 "encoding":{"x":{"field":"i","type":"quantitative","scale":{"domain":[-0.625,420.875],"nice":false,"zero":false},"axis":null},
  "y":{"field":"l","type":"quantitative","scale":{"domain":[1.1493,1.20213],"nice":false,"zero":false},
   "axis":{"orient":"right","values":[1.19895,1.19565,1.1924,1.1891,1.1858,1.18255,1.17925,1.17595,1.1727,1.1694,1.16615,1.16285,1.15955,1.153,1.1497],"format":".5f","tickSize":4,"labelPadding":1,"title":null,"grid":false}},
  "y2":{"field":"h"},
  "color":{"condition":{"test":"datum.c>datum.o","value":"#ff0000"},"value":"#000000"}}},
{"data":{"name":"bars"},"mark":{"type":"bar","size":2,"strokeWidth":1},
 "encoding":{"x":{"field":"i","type":"quantitative","scale":{"domain":[-0.625,420.875],"nice":false,"zero":false},"axis":null},
  "y":{"field":"o","type":"quantitative","scale":{"domain":[1.1493,1.20213],"nice":false,"zero":false},
   "axis":{"orient":"right","values":[1.19895,1.19565,1.1924,1.1891,1.1858,1.18255,1.17925,1.17595,1.1727,1.1694,1.16615,1.16285,1.15955,1.153,1.1497],"format":".5f","tickSize":4,"labelPadding":1,"title":null,"grid":false}},
  "y2":{"field":"c"},
  "fill":{"condition":{"test":"datum.c>datum.o","value":"#ff0000"},"value":"#000000"},
  "stroke":{"condition":{"test":"datum.c>datum.o","value":"#ff0000"},"value":"#000000"}}},
{"data":{"values":[{"k":"u","i":148.05,"p":1.1823},{"k":"u","i":420.875,"p":1.17026},{"k":"d","i":179.3,"p":1.15169},{"k":"d","i":420.875,"p":1.16654}]},
 "mark":{"type":"line","color":"#0000ff","strokeWidth":2.6},
 "encoding":{"x":{"field":"i","type":"quantitative","scale":{"domain":[-0.625,420.875],"nice":false,"zero":false},"axis":null},
  "y":{"field":"p","type":"quantitative","scale":{"domain":[1.1493,1.20213],"nice":false,"zero":false},
   "axis":{"orient":"right","values":[1.19895,1.19565,1.1924,1.1891,1.1858,1.18255,1.17925,1.17595,1.1727,1.1694,1.16615,1.16285,1.15955,1.153,1.1497],"format":".5f","tickSize":4,"labelPadding":1,"title":null,"grid":false}},
  "detail":{"field":"k"}}},
{"data":{"values":[{"i":352.6,"p":1.18751,"t":"欧元四小时周期"}]},
 "mark":{"type":"text","font":"Noto Sans CJK SC","fontWeight":"bold","fontSize":23.5,"color":"#ff0000","align":"center","baseline":"middle"},
 "encoding":{"x":{"field":"i","type":"quantitative","scale":{"domain":[-0.625,420.875],"nice":false,"zero":false},"axis":null},
  "y":{"field":"p","type":"quantitative","scale":{"domain":[1.1493,1.20213],"nice":false,"zero":false},
   "axis":{"orient":"right","values":[1.19895,1.19565,1.1924,1.1891,1.1858,1.18255,1.17925,1.17595,1.1727,1.1694,1.16615,1.16285,1.15955,1.153,1.1497],"format":".5f","tickSize":4,"labelPadding":1,"title":null,"grid":false}},
  "text":{"field":"t"}}},
{"data":{"values":[{"i":3.1,"p":1.20134,"t":"EURUSD,H4  1.15639 1.15660 1.15590 1.15597"}]},
 "mark":{"type":"text","font":"Liberation Sans","fontSize":9,"color":"#000000","align":"left","baseline":"middle"},
 "encoding":{"x":{"field":"i","type":"quantitative","scale":{"domain":[-0.625,420.875],"nice":false,"zero":false},"axis":null},
  "y":{"field":"p","type":"quantitative","scale":{"domain":[1.1493,1.20213],"nice":false,"zero":false},
   "axis":{"orient":"right","values":[1.19895,1.19565,1.1924,1.1891,1.1858,1.18255,1.17925,1.17595,1.1727,1.1694,1.16615,1.16285,1.15955,1.153,1.1497],"format":".5f","tickSize":4,"labelPadding":1,"title":null,"grid":false}},
  "text":{"field":"t"}}},
{"data":{"values":[{"i":1.2,"p":1.20134,"k":"a"},{"i":378.4,"p":1.20188,"k":"b"}]},
 "mark":{"type":"point","shape":"triangle-down","filled":true,"strokeWidth":0},
 "encoding":{"x":{"field":"i","type":"quantitative","scale":{"domain":[-0.625,420.875],"nice":false,"zero":false},"axis":null},
  "y":{"field":"p","type":"quantitative","scale":{"domain":[1.1493,1.20213],"nice":false,"zero":false},
   "axis":{"orient":"right","values":[1.19895,1.19565,1.1924,1.1891,1.1858,1.18255,1.17925,1.17595,1.1727,1.1694,1.16615,1.16285,1.15955,1.153,1.1497],"format":".5f","tickSize":4,"labelPadding":1,"title":null,"grid":false}},
  "color":{"field":"k","type":"nominal","scale":{"domain":["a","b"],"range":["#000000","#a8a8a8"]},"legend":null},
  "size":{"field":"k","type":"nominal","scale":{"domain":["a","b"],"range":[20,45]},"legend":null}}},
{"data":{"values":[{"i":421.1,"i2":432.2,"p":1.15636,"p2":1.15545}]},
 "mark":{"type":"rect","color":"#000000"},
 "encoding":{"x":{"field":"i","type":"quantitative","scale":{"domain":[-0.625,420.875],"nice":false,"zero":false},"axis":null},"x2":{"field":"i2"},
  "y":{"field":"p","type":"quantitative","scale":{"domain":[1.1493,1.20213],"nice":false,"zero":false},
   "axis":{"orient":"right","values":[1.19895,1.19565,1.1924,1.1891,1.1858,1.18255,1.17925,1.17595,1.1727,1.1694,1.16615,1.16285,1.15955,1.153,1.1497],"format":".5f","tickSize":4,"labelPadding":1,"title":null,"grid":false}},"y2":{"field":"p2"}}},
{"data":{"values":[{"i":422.1,"p":1.15592,"t":"1.15597"}]},
 "mark":{"type":"text","font":"Liberation Sans","fontSize":10,"color":"#ffffff","align":"left","baseline":"middle"},
 "encoding":{"x":{"field":"i","type":"quantitative","scale":{"domain":[-0.625,420.875],"nice":false,"zero":false},"axis":null},
  "y":{"field":"p","type":"quantitative","scale":{"domain":[1.1493,1.20213],"nice":false,"zero":false},
   "axis":{"orient":"right","values":[1.19895,1.19565,1.1924,1.1891,1.1858,1.18255,1.17925,1.17595,1.1727,1.1694,1.16615,1.16285,1.15955,1.153,1.1497],"format":".5f","tickSize":4,"labelPadding":1,"title":null,"grid":false}},
  "text":{"field":"t"}}},
{"data":{"values":[{"i":26.9,"i2":62.9,"p":1.17766,"p2":1.16711}]},
 "mark":{"type":"rect","color":"#b0b0b0","opacity":0.6},
 "encoding":{"x":{"field":"i","type":"quantitative","scale":{"domain":[-0.625,420.875],"nice":false,"zero":false},"axis":null},"x2":{"field":"i2"},
  "y":{"field":"p","type":"quantitative","scale":{"domain":[1.1493,1.20213],"nice":false,"zero":false},
   "axis":{"orient":"right","values":[1.19895,1.19565,1.1924,1.1891,1.1858,1.18255,1.17925,1.17595,1.1727,1.1694,1.16615,1.16285,1.15955,1.153,1.1497],"format":".5f","tickSize":4,"labelPadding":1,"title":null,"grid":false}},"y2":{"field":"p2"}}},
{"data":{"values":[{"i":26.25,"i2":62.125,"p":1.17795,"p2":1.16741}]},
 "mark":{"type":"rect","fill":"#ffffff","stroke":"#808080","strokeWidth":1},
 "encoding":{"x":{"field":"i","type":"quantitative","scale":{"domain":[-0.625,420.875],"nice":false,"zero":false},"axis":null},"x2":{"field":"i2"},
  "y":{"field":"p","type":"quantitative","scale":{"domain":[1.1493,1.20213],"nice":false,"zero":false},
   "axis":{"orient":"right","values":[1.19895,1.19565,1.1924,1.1891,1.1858,1.18255,1.17925,1.17595,1.1727,1.1694,1.16615,1.16285,1.15955,1.153,1.1497],"format":".5f","tickSize":4,"labelPadding":1,"title":null,"grid":false}},"y2":{"field":"p2"}}},
{"data":{"values":[{"i":27.6,"p":1.17693,"t":"Time: 2018.05.17 20:01"},{"i":27.6,"p":1.17524,"t":"Open: 1.17952"},{"i":27.6,"p":1.17355,"t":"High: 1.18019"},{"i":27.6,"p":1.17195,"t":"Low:  1.17916"},{"i":27.6,"p":1.17026,"t":"Close: 1.17957"},{"i":27.6,"p":1.16847,"t":"Volume: 9083"}]},
 "mark":{"type":"text","font":"Liberation Sans","fontSize":12.5,"color":"#666666","align":"left","baseline":"middle"},
 "encoding":{"x":{"field":"i","type":"quantitative","scale":{"domain":[-0.625,420.875],"nice":false,"zero":false},"axis":null},
  "y":{"field":"p","type":"quantitative","scale":{"domain":[1.1493,1.20213],"nice":false,"zero":false},
   "axis":{"orient":"right","values":[1.19895,1.19565,1.1924,1.1891,1.1858,1.18255,1.17925,1.17595,1.1727,1.1694,1.16615,1.16285,1.15955,1.153,1.1497],"format":".5f","tickSize":4,"labelPadding":1,"title":null,"grid":false}},
  "text":{"field":"t"}}}
]
},
{
"width":1686,"height":204,
"layer":[
{"data":{"name":"bars"},"mark":{"type":"bar","size":3},
 "encoding":{"x":{"field":"i","type":"quantitative","scale":{"domain":[-0.625,420.875],"nice":false,"zero":false},
   "axis":{"values":[0,16,32,48,64,80,96,112,128,144,160,176,192,208,224,240,256,272,288,304,320,336,352,368],"labelExpr":"['11 May 2018','16 May 04:01','18 May 20:01','23 May 08:01','27 May 23:00','30 May 12:01','4 Jun 00:01','6 Jun 16:01','11 Jun 04:01','13 Jun 20:01','18 Jun 08:01','21 Jun 00:01','25 Jun 12:01','28 Jun 04:01','2 Jul 16:01','5 Jul 08:01','9 Jul 20:01','12 Jul 12:01','17 Jul 00:01','19 Jul 16:01','24 Jul 04:01','26 Jul 20:01','31 Jul 08:01','3 Aug 00:01'][round(datum.value/16)]","tickSize":4,"labelAlign":"left","labelBaseline":"top","labelPadding":1,"labelDx":1,"labelFlush":false,"labelOverlap":false,"labelBound":false,"domain":false,"title":null,"grid":false}},
  "y":{"field":"m","type":"quantitative","scale":{"domain":[-0.010949,0.008696],"nice":false,"zero":false},
   "axis":{"orient":"right","values":[0.008085,0,-0.010322],"labelExpr":"datum.value==0?'0.00':format(datum.value,'.6f')","tickSize":4,"labelPadding":1,"title":null,"grid":false}},
  "y2":{"datum":0},
  "color":{"condition":{"test":"datum.m>0","value":"#ff8c00"},"value":"#228b22"}}},
{"data":{"name":"lines"},"mark":{"type":"line","color":"#ff0000","strokeWidth":1},
 "encoding":{"x":{"field":"i","type":"quantitative","scale":{"domain":[-0.625,420.875],"nice":false,"zero":false},
   "axis":{"values":[0,16,32,48,64,80,96,112,128,144,160,176,192,208,224,240,256,272,288,304,320,336,352,368],"labelExpr":"['11 May 2018','16 May 04:01','18 May 20:01','23 May 08:01','27 May 23:00','30 May 12:01','4 Jun 00:01','6 Jun 16:01','11 Jun 04:01','13 Jun 20:01','18 Jun 08:01','21 Jun 00:01','25 Jun 12:01','28 Jun 04:01','2 Jul 16:01','5 Jul 08:01','9 Jul 20:01','12 Jul 12:01','17 Jul 00:01','19 Jul 16:01','24 Jul 04:01','26 Jul 20:01','31 Jul 08:01','3 Aug 00:01'][round(datum.value/16)]","tickSize":4,"labelAlign":"left","labelBaseline":"top","labelPadding":1,"labelDx":1,"labelFlush":false,"labelOverlap":false,"labelBound":false,"domain":false,"title":null,"grid":false}},
  "y":{"field":"r","type":"quantitative","scale":{"domain":[-0.010949,0.008696],"nice":false,"zero":false},
   "axis":{"orient":"right","values":[0.008085,0,-0.010322],"labelExpr":"datum.value==0?'0.00':format(datum.value,'.6f')","tickSize":4,"labelPadding":1,"title":null,"grid":false}}}},
{"data":{"name":"lines"},"mark":{"type":"line","color":"#228b22","strokeWidth":1},
 "encoding":{"x":{"field":"i","type":"quantitative","scale":{"domain":[-0.625,420.875],"nice":false,"zero":false},
   "axis":{"values":[0,16,32,48,64,80,96,112,128,144,160,176,192,208,224,240,256,272,288,304,320,336,352,368],"labelExpr":"['11 May 2018','16 May 04:01','18 May 20:01','23 May 08:01','27 May 23:00','30 May 12:01','4 Jun 00:01','6 Jun 16:01','11 Jun 04:01','13 Jun 20:01','18 Jun 08:01','21 Jun 00:01','25 Jun 12:01','28 Jun 04:01','2 Jul 16:01','5 Jul 08:01','9 Jul 20:01','12 Jul 12:01','17 Jul 00:01','19 Jul 16:01','24 Jul 04:01','26 Jul 20:01','31 Jul 08:01','3 Aug 00:01'][round(datum.value/16)]","tickSize":4,"labelAlign":"left","labelBaseline":"top","labelPadding":1,"labelDx":1,"labelFlush":false,"labelOverlap":false,"labelBound":false,"domain":false,"title":null,"grid":false}},
  "y":{"field":"g","type":"quantitative","scale":{"domain":[-0.010949,0.008696],"nice":false,"zero":false},
   "axis":{"orient":"right","values":[0.008085,0,-0.010322],"labelExpr":"datum.value==0?'0.00':format(datum.value,'.6f')","tickSize":4,"labelPadding":1,"title":null,"grid":false}}}},
{"data":{"values":[{"i":0.6,"v":0.00773,"t":"M -0.0030127 -0.0027321 -0.0008418 -0.0008418"}]},
 "mark":{"type":"text","font":"Liberation Sans","fontSize":9,"color":"#000000","align":"left","baseline":"middle"},
 "encoding":{"x":{"field":"i","type":"quantitative","scale":{"domain":[-0.625,420.875],"nice":false,"zero":false},
   "axis":{"values":[0,16,32,48,64,80,96,112,128,144,160,176,192,208,224,240,256,272,288,304,320,336,352,368],"labelExpr":"['11 May 2018','16 May 04:01','18 May 20:01','23 May 08:01','27 May 23:00','30 May 12:01','4 Jun 00:01','6 Jun 16:01','11 Jun 04:01','13 Jun 20:01','18 Jun 08:01','21 Jun 00:01','25 Jun 12:01','28 Jun 04:01','2 Jul 16:01','5 Jul 08:01','9 Jul 20:01','12 Jul 12:01','17 Jul 00:01','19 Jul 16:01','24 Jul 04:01','26 Jul 20:01','31 Jul 08:01','3 Aug 00:01'][round(datum.value/16)]","tickSize":4,"labelAlign":"left","labelBaseline":"top","labelPadding":1,"labelDx":1,"labelFlush":false,"labelOverlap":false,"labelBound":false,"domain":false,"title":null,"grid":false}},
  "y":{"field":"v","type":"quantitative","scale":{"domain":[-0.010949,0.008696],"nice":false,"zero":false},
   "axis":{"orient":"right","values":[0.008085,0,-0.010322],"labelExpr":"datum.value==0?'0.00':format(datum.value,'.6f')","tickSize":4,"labelPadding":1,"title":null,"grid":false}},
  "text":{"field":"t"}}}
]
}
]
}
